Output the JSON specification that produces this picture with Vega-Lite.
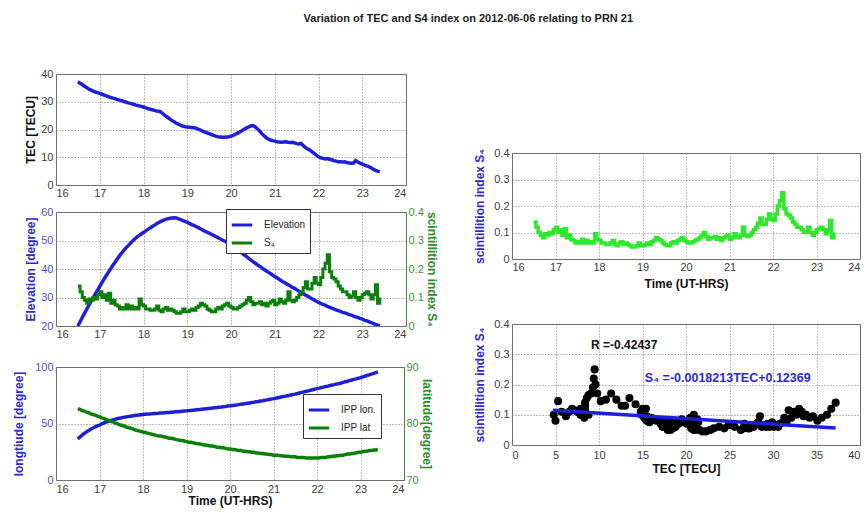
{
"$schema": "https://vega.github.io/schema/vega-lite/v6.json",
"padding": {"left": 12, "top": 12, "right": 2, "bottom": 2},
"title": {"text": "Variation of TEC and S4 index on 2012-06-06 relating to PRN 21", "fontSize": 11, "fontWeight": "bold", "color": "#222222", "anchor": "middle", "dx": 32, "offset": 44},
"datasets": {
"ts": [
{"t":16.5,"tec":37.2,"s4":0.14,"el":20.0,"lon":36.2,"lat":82.6},
{"t":16.55,"tec":36.7,"s4":0.12,"el":21.5,"lon":38.0,"lat":82.5},
{"t":16.6,"tec":36.2,"s4":0.10,"el":23.0,"lon":39.7,"lat":82.3},
{"t":16.65,"tec":35.6,"s4":0.09,"el":24.4,"lon":41.2,"lat":82.2},
{"t":16.7,"tec":35.1,"s4":0.08,"el":25.8,"lon":42.6,"lat":82.0},
{"t":16.75,"tec":34.6,"s4":0.095,"el":27.2,"lon":43.8,"lat":81.9},
{"t":16.8,"tec":34.2,"s4":0.09,"el":28.6,"lon":45.0,"lat":81.7},
{"t":16.85,"tec":33.8,"s4":0.10,"el":30.0,"lon":46.0,"lat":81.6},
{"t":16.9,"tec":33.5,"s4":0.095,"el":31.3,"lon":47.0,"lat":81.5},
{"t":16.95,"tec":33.3,"s4":0.11,"el":32.6,"lon":47.8,"lat":81.3},
{"t":17.0,"tec":33.0,"s4":0.12,"el":33.9,"lon":48.6,"lat":81.2},
{"t":17.05,"tec":32.7,"s4":0.10,"el":35.2,"lon":49.6,"lat":81.0},
{"t":17.1,"tec":32.4,"s4":0.11,"el":36.5,"lon":50.5,"lat":80.9},
{"t":17.15,"tec":32.1,"s4":0.09,"el":37.7,"lon":51.3,"lat":80.7},
{"t":17.2,"tec":31.8,"s4":0.115,"el":38.9,"lon":52.0,"lat":80.6},
{"t":17.25,"tec":31.6,"s4":0.08,"el":40.1,"lon":52.6,"lat":80.4},
{"t":17.3,"tec":31.3,"s4":0.09,"el":41.3,"lon":53.2,"lat":80.3},
{"t":17.35,"tec":31.1,"s4":0.075,"el":42.4,"lon":53.7,"lat":80.1},
{"t":17.4,"tec":30.8,"s4":0.07,"el":43.5,"lon":54.2,"lat":80.0},
{"t":17.45,"tec":30.6,"s4":0.06,"el":44.6,"lon":54.6,"lat":79.8},
{"t":17.5,"tec":30.4,"s4":0.065,"el":45.6,"lon":55.0,"lat":79.7},
{"t":17.55,"tec":30.1,"s4":0.06,"el":46.5,"lon":55.4,"lat":79.6},
{"t":17.6,"tec":29.9,"s4":0.075,"el":47.4,"lon":55.8,"lat":79.4},
{"t":17.65,"tec":29.6,"s4":0.06,"el":48.2,"lon":56.1,"lat":79.3},
{"t":17.7,"tec":29.4,"s4":0.07,"el":49.0,"lon":56.4,"lat":79.2},
{"t":17.75,"tec":29.2,"s4":0.06,"el":49.8,"lon":56.7,"lat":79.1},
{"t":17.8,"tec":28.9,"s4":0.065,"el":50.5,"lon":57.0,"lat":78.9},
{"t":17.85,"tec":28.7,"s4":0.06,"el":51.2,"lon":57.3,"lat":78.8},
{"t":17.9,"tec":28.5,"s4":0.095,"el":51.8,"lon":57.5,"lat":78.7},
{"t":17.95,"tec":28.3,"s4":0.075,"el":52.3,"lon":57.8,"lat":78.6},
{"t":18.0,"tec":28.1,"s4":0.07,"el":52.8,"lon":58.0,"lat":78.5},
{"t":18.05,"tec":27.8,"s4":0.06,"el":53.4,"lon":58.2,"lat":78.4},
{"t":18.1,"tec":27.5,"s4":0.06,"el":53.9,"lon":58.3,"lat":78.3},
{"t":18.15,"tec":27.3,"s4":0.055,"el":54.4,"lon":58.5,"lat":78.2},
{"t":18.2,"tec":27.1,"s4":0.055,"el":54.9,"lon":58.6,"lat":78.1},
{"t":18.25,"tec":26.9,"s4":0.06,"el":55.4,"lon":58.8,"lat":78.0},
{"t":18.3,"tec":26.7,"s4":0.07,"el":55.9,"lon":58.9,"lat":77.9},
{"t":18.35,"tec":26.6,"s4":0.055,"el":56.3,"lon":59.0,"lat":77.8},
{"t":18.4,"tec":26.3,"s4":0.05,"el":56.7,"lon":59.2,"lat":77.8},
{"t":18.45,"tec":25.6,"s4":0.06,"el":57.1,"lon":59.3,"lat":77.7},
{"t":18.5,"tec":24.9,"s4":0.065,"el":57.4,"lon":59.5,"lat":77.6},
{"t":18.55,"tec":24.4,"s4":0.055,"el":57.6,"lon":59.7,"lat":77.5},
{"t":18.6,"tec":23.8,"s4":0.06,"el":57.8,"lon":59.8,"lat":77.4},
{"t":18.65,"tec":23.2,"s4":0.055,"el":57.9,"lon":60.0,"lat":77.4},
{"t":18.7,"tec":22.8,"s4":0.05,"el":58.0,"lon":60.2,"lat":77.3},
{"t":18.75,"tec":22.3,"s4":0.045,"el":57.9,"lon":60.4,"lat":77.2},
{"t":18.8,"tec":21.9,"s4":0.045,"el":57.6,"lon":60.5,"lat":77.1},
{"t":18.85,"tec":21.5,"s4":0.05,"el":57.3,"lon":60.7,"lat":77.0},
{"t":18.9,"tec":21.2,"s4":0.06,"el":57.0,"lon":60.9,"lat":77.0},
{"t":18.95,"tec":21.0,"s4":0.05,"el":56.7,"lon":61.1,"lat":76.9},
{"t":19.0,"tec":20.9,"s4":0.05,"el":56.4,"lon":61.2,"lat":76.8},
{"t":19.05,"tec":20.8,"s4":0.055,"el":56.0,"lon":61.4,"lat":76.7},
{"t":19.1,"tec":20.7,"s4":0.06,"el":55.6,"lon":61.6,"lat":76.7},
{"t":19.15,"tec":20.6,"s4":0.055,"el":55.3,"lon":61.8,"lat":76.6},
{"t":19.2,"tec":20.5,"s4":0.065,"el":54.9,"lon":62.0,"lat":76.5},
{"t":19.25,"tec":20.1,"s4":0.07,"el":54.5,"lon":62.2,"lat":76.4},
{"t":19.3,"tec":19.8,"s4":0.08,"el":54.1,"lon":62.4,"lat":76.4},
{"t":19.35,"tec":19.4,"s4":0.075,"el":53.7,"lon":62.6,"lat":76.3},
{"t":19.4,"tec":19.1,"s4":0.07,"el":53.3,"lon":62.8,"lat":76.2},
{"t":19.45,"tec":18.8,"s4":0.06,"el":52.9,"lon":63.0,"lat":76.2},
{"t":19.5,"tec":18.5,"s4":0.055,"el":52.6,"lon":63.2,"lat":76.1},
{"t":19.55,"tec":18.2,"s4":0.05,"el":52.2,"lon":63.4,"lat":76.0},
{"t":19.6,"tec":17.9,"s4":0.05,"el":51.8,"lon":63.7,"lat":76.0},
{"t":19.65,"tec":17.6,"s4":0.06,"el":51.4,"lon":63.9,"lat":75.9},
{"t":19.7,"tec":17.4,"s4":0.065,"el":51.0,"lon":64.1,"lat":75.8},
{"t":19.75,"tec":17.3,"s4":0.06,"el":50.6,"lon":64.4,"lat":75.8},
{"t":19.8,"tec":17.2,"s4":0.07,"el":50.2,"lon":64.6,"lat":75.7},
{"t":19.85,"tec":17.2,"s4":0.075,"el":49.8,"lon":64.9,"lat":75.7},
{"t":19.9,"tec":17.3,"s4":0.08,"el":49.4,"lon":65.1,"lat":75.6},
{"t":19.95,"tec":17.4,"s4":0.07,"el":49.0,"lon":65.4,"lat":75.5},
{"t":20.0,"tec":17.6,"s4":0.065,"el":48.5,"lon":65.6,"lat":75.5},
{"t":20.05,"tec":17.9,"s4":0.06,"el":48.0,"lon":65.9,"lat":75.4},
{"t":20.1,"tec":18.3,"s4":0.06,"el":47.4,"lon":66.2,"lat":75.4},
{"t":20.15,"tec":18.7,"s4":0.065,"el":46.8,"lon":66.4,"lat":75.3},
{"t":20.2,"tec":19.1,"s4":0.07,"el":46.2,"lon":66.7,"lat":75.2},
{"t":20.25,"tec":19.6,"s4":0.075,"el":45.6,"lon":67.0,"lat":75.2},
{"t":20.3,"tec":20.1,"s4":0.08,"el":45.0,"lon":67.3,"lat":75.1},
{"t":20.35,"tec":20.5,"s4":0.09,"el":44.4,"lon":67.6,"lat":75.1},
{"t":20.4,"tec":20.9,"s4":0.10,"el":43.8,"lon":67.9,"lat":75.0},
{"t":20.45,"tec":21.3,"s4":0.085,"el":43.2,"lon":68.2,"lat":75.0},
{"t":20.5,"tec":21.4,"s4":0.075,"el":42.6,"lon":68.5,"lat":74.9},
{"t":20.55,"tec":21.0,"s4":0.08,"el":42.1,"lon":68.8,"lat":74.9},
{"t":20.6,"tec":20.3,"s4":0.08,"el":41.5,"lon":69.2,"lat":74.8},
{"t":20.65,"tec":19.5,"s4":0.085,"el":41.0,"lon":69.5,"lat":74.8},
{"t":20.7,"tec":18.6,"s4":0.075,"el":40.5,"lon":69.9,"lat":74.7},
{"t":20.75,"tec":17.8,"s4":0.08,"el":39.9,"lon":70.2,"lat":74.7},
{"t":20.8,"tec":17.1,"s4":0.07,"el":39.4,"lon":70.6,"lat":74.6},
{"t":20.85,"tec":16.6,"s4":0.08,"el":38.9,"lon":70.9,"lat":74.6},
{"t":20.9,"tec":16.2,"s4":0.085,"el":38.4,"lon":71.3,"lat":74.5},
{"t":20.95,"tec":16.0,"s4":0.09,"el":37.9,"lon":71.6,"lat":74.5},
{"t":21.0,"tec":15.8,"s4":0.075,"el":37.4,"lon":72.0,"lat":74.4},
{"t":21.05,"tec":15.6,"s4":0.08,"el":36.9,"lon":72.4,"lat":74.4},
{"t":21.1,"tec":15.5,"s4":0.095,"el":36.4,"lon":72.8,"lat":74.4},
{"t":21.15,"tec":15.4,"s4":0.085,"el":35.9,"lon":73.2,"lat":74.3},
{"t":21.2,"tec":15.5,"s4":0.08,"el":35.4,"lon":73.6,"lat":74.3},
{"t":21.25,"tec":15.6,"s4":0.09,"el":35.0,"lon":74.0,"lat":74.2},
{"t":21.3,"tec":15.4,"s4":0.12,"el":34.5,"lon":74.4,"lat":74.2},
{"t":21.35,"tec":15.3,"s4":0.09,"el":34.1,"lon":74.8,"lat":74.2},
{"t":21.4,"tec":15.4,"s4":0.085,"el":33.6,"lon":75.2,"lat":74.1},
{"t":21.45,"tec":15.2,"s4":0.09,"el":33.2,"lon":75.6,"lat":74.1},
{"t":21.5,"tec":14.9,"s4":0.10,"el":32.7,"lon":76.0,"lat":74.1},
{"t":21.55,"tec":14.8,"s4":0.11,"el":32.3,"lon":76.5,"lat":74.0},
{"t":21.6,"tec":15.0,"s4":0.12,"el":31.8,"lon":77.0,"lat":74.0},
{"t":21.65,"tec":14.2,"s4":0.135,"el":31.4,"lon":77.5,"lat":74.0},
{"t":21.7,"tec":13.5,"s4":0.155,"el":30.9,"lon":78.0,"lat":74.0},
{"t":21.75,"tec":13.0,"s4":0.13,"el":30.5,"lon":78.5,"lat":73.9},
{"t":21.8,"tec":12.6,"s4":0.13,"el":30.0,"lon":78.9,"lat":73.9},
{"t":21.85,"tec":12.0,"s4":0.15,"el":29.6,"lon":79.4,"lat":73.9},
{"t":21.9,"tec":11.4,"s4":0.17,"el":29.1,"lon":79.9,"lat":73.9},
{"t":21.95,"tec":10.8,"s4":0.15,"el":28.7,"lon":80.4,"lat":73.9},
{"t":22.0,"tec":10.2,"s4":0.145,"el":28.3,"lon":80.9,"lat":73.9},
{"t":22.05,"tec":9.8,"s4":0.17,"el":27.9,"lon":81.3,"lat":73.9},
{"t":22.1,"tec":9.6,"s4":0.20,"el":27.6,"lon":81.8,"lat":74.0},
{"t":22.15,"tec":9.4,"s4":0.22,"el":27.3,"lon":82.2,"lat":74.0},
{"t":22.2,"tec":9.5,"s4":0.25,"el":26.9,"lon":82.7,"lat":74.0},
{"t":22.25,"tec":9.3,"s4":0.19,"el":26.6,"lon":83.1,"lat":74.1},
{"t":22.3,"tec":9.1,"s4":0.17,"el":26.3,"lon":83.6,"lat":74.1},
{"t":22.35,"tec":8.8,"s4":0.165,"el":26.0,"lon":84.0,"lat":74.2},
{"t":22.4,"tec":8.6,"s4":0.155,"el":25.7,"lon":84.4,"lat":74.2},
{"t":22.45,"tec":8.4,"s4":0.14,"el":25.4,"lon":84.9,"lat":74.3},
{"t":22.5,"tec":8.4,"s4":0.13,"el":25.1,"lon":85.3,"lat":74.3},
{"t":22.55,"tec":8.3,"s4":0.12,"el":24.8,"lon":85.8,"lat":74.4},
{"t":22.6,"tec":8.4,"s4":0.12,"el":24.6,"lon":86.4,"lat":74.4},
{"t":22.65,"tec":8.1,"s4":0.11,"el":24.3,"lon":86.9,"lat":74.5},
{"t":22.7,"tec":7.9,"s4":0.10,"el":24.0,"lon":87.4,"lat":74.6},
{"t":22.75,"tec":7.8,"s4":0.105,"el":23.8,"lon":88.0,"lat":74.6},
{"t":22.8,"tec":7.9,"s4":0.12,"el":23.5,"lon":88.5,"lat":74.7},
{"t":22.85,"tec":8.8,"s4":0.10,"el":23.2,"lon":89.0,"lat":74.7},
{"t":22.9,"tec":8.3,"s4":0.09,"el":23.0,"lon":89.5,"lat":74.8},
{"t":22.95,"tec":7.9,"s4":0.10,"el":22.7,"lon":90.1,"lat":74.9},
{"t":23.0,"tec":7.5,"s4":0.11,"el":22.4,"lon":90.6,"lat":74.9},
{"t":23.05,"tec":7.2,"s4":0.115,"el":22.1,"lon":91.2,"lat":75.0},
{"t":23.1,"tec":6.9,"s4":0.12,"el":21.8,"lon":91.8,"lat":75.1},
{"t":23.15,"tec":6.6,"s4":0.11,"el":21.5,"lon":92.5,"lat":75.1},
{"t":23.2,"tec":6.2,"s4":0.095,"el":21.2,"lon":93.1,"lat":75.2},
{"t":23.25,"tec":5.7,"s4":0.11,"el":20.9,"lon":93.7,"lat":75.2},
{"t":23.3,"tec":5.3,"s4":0.145,"el":20.6,"lon":94.3,"lat":75.3},
{"t":23.35,"tec":5.0,"s4":0.08,"el":20.3,"lon":95.0,"lat":75.3},
{"t":23.4,"tec":4.8,"s4":0.10,"el":20.0,"lon":95.6,"lat":75.4}
],
"fit": [
{"tec":4.7,"fit":0.1151},
{"tec":37.2,"fit":0.0559}
]
},
"config": {
"font": "Liberation Sans",
"view": {"stroke": "#6a6a6a", "strokeWidth": 1},
"axis": {"labelFontSize": 11, "labelColor": "#3c3c3c", "titleFontSize": 12, "titleFontWeight": "bold", "titleColor": "#111111", "grid": true, "gridDash": [1, 2], "gridColor": "#7a7a7a", "gridWidth": 1, "ticks": false, "domain": false, "labelPadding": 3, "titlePadding": 3},
"axisX": {"labelPadding": 2, "titlePadding": 2},
"legend": {"title": null, "orient": "none", "symbolType": "stroke", "symbolStrokeWidth": 3, "symbolSize": 420, "labelFontSize": 10, "labelColor": "#222222", "strokeColor": "#333333", "fillColor": "#ffffff", "padding": 4, "rowPadding": 0, "labelOffset": 10}
},
"spacing": 35,
"resolve": {"scale": {"color": "independent"}, "legend": {"color": "independent"}},
"hconcat": [
{
"spacing": 6,
"resolve": {"scale": {"color": "independent"}, "legend": {"color": "independent"}},
"vconcat": [
{
"width": 350, "height": 111,
"data": {"name": "ts"},
"mark": {"type": "line", "color": "#1f1fd8", "strokeWidth": 3.5},
"encoding": {
"x": {"field": "t", "type": "quantitative", "scale": {"domain": [16, 24], "nice": false}, "axis": {"values": [16,17,18,19,20,21,22,23,24], "title": null}},
"y": {"field": "tec", "type": "quantitative", "scale": {"domain": [0, 40]}, "axis": {"values": [0,10,20,30,40], "title": "TEC [TECU]"}}
}
},
{
"width": 350, "height": 114,
"data": {"name": "ts"},
"layer": [
{
"mark": {"type": "line", "strokeWidth": 3.5, "clip": true},
"encoding": {
"x": {"field": "t", "type": "quantitative", "scale": {"domain": [16, 24], "nice": false}, "axis": {"values": [16,17,18,19,20,21,22,23,24], "title": null}},
"y": {"field": "el", "type": "quantitative", "scale": {"domain": [20, 60]}, "axis": {"values": [20,30,40,50,60], "title": "Elevation [degree]", "titleColor": "#2a2ad0", "labelColor": "#5050c0"}},
"color": {"datum": "Elevation", "type": "nominal", "scale": {"domain": ["Elevation", "S₄"], "range": ["#1f1fd8", "#0a800a"]}, "legend": {"legendX": 170, "legendY": -3}}
}
},
{
"mark": {"type": "line", "interpolate": "step-after", "strokeWidth": 3},
"encoding": {
"x": {"field": "t", "type": "quantitative", "scale": {"domain": [16, 24], "nice": false}, "axis": {"values": [16,17,18,19,20,21,22,23,24], "title": null}},
"y": {"field": "s4", "type": "quantitative", "scale": {"domain": [0, 0.4]}, "axis": {"orient": "right", "values": [0,0.1,0.2,0.3,0.4], "format": "~g", "grid": false, "title": "scintillition index S₄", "titleColor": "#2a8a2a", "labelColor": "#3f8f3f", "domain": true, "domainColor": "#3f8f3f", "labelPadding": 2, "titlePadding": 1}},
"color": {"datum": "S₄", "type": "nominal"}
}
}
],
"resolve": {"scale": {"y": "independent"}}
},
{
"width": 348, "height": 113,
"title": {"text": " ", "fontSize": 1, "offset": 13},
"data": {"name": "ts"},
"layer": [
{
"mark": {"type": "line", "strokeWidth": 3.5},
"encoding": {
"x": {"field": "t", "type": "quantitative", "scale": {"domain": [16, 24], "nice": false}, "axis": {"values": [16,17,18,19,20,21,22,23,24], "title": "Time (UT-HRS)", "labelPadding": 3, "titlePadding": 1}},
"y": {"field": "lon", "type": "quantitative", "scale": {"domain": [0, 100]}, "axis": {"values": [0,50,100], "title": "longtiude [degree]", "titleColor": "#2a2ad0", "labelColor": "#5050c0", "titlePadding": 9}},
"color": {"datum": "IPP lon.", "type": "nominal", "scale": {"domain": ["IPP lon.", "IPP lat"], "range": ["#1f1fd8", "#0a800a"]}, "legend": {"legendX": 247, "legendY": 27}}
}
},
{
"mark": {"type": "line", "strokeWidth": 3.5},
"encoding": {
"x": {"field": "t", "type": "quantitative", "scale": {"domain": [16, 24], "nice": false}, "axis": {"values": [16,17,18,19,20,21,22,23,24], "title": "Time (UT-HRS)", "labelPadding": 3, "titlePadding": 1}},
"y": {"field": "lat", "type": "quantitative", "scale": {"domain": [70, 90]}, "axis": {"orient": "right", "values": [70,80,90], "grid": false, "title": "latitude[degree]", "titleColor": "#2a8a2a", "labelColor": "#3f8f3f", "domain": true, "domainColor": "#3f8f3f", "labelPadding": 2, "titlePadding": 1}},
"color": {"datum": "IPP lat", "type": "nominal"}
}
}
],
"resolve": {"scale": {"y": "independent"}}
}
]
},
{
"spacing": 27,
"vconcat": [
{
"width": 348, "height": 45,
"data": {"values": []},
"mark": {"type": "point", "opacity": 0},
"view": {"stroke": null}
},
{
"width": 348, "height": 106,
"data": {"name": "ts"},
"mark": {"type": "line", "interpolate": "step-after", "color": "#2ee82e", "strokeWidth": 3.5},
"encoding": {
"x": {"field": "t", "type": "quantitative", "scale": {"domain": [16, 24], "nice": false}, "axis": {"values": [16,17,18,19,20,21,22,23,24], "title": "Time (UT-HRS)", "titlePadding": 6}},
"y": {"field": "s4", "type": "quantitative", "scale": {"domain": [0, 0.4]}, "axis": {"values": [0,0.1,0.2,0.3,0.4], "format": "~g", "title": "scintillition index S₄", "titleColor": "#2a2ad0", "titlePadding": 7}}
}
},
{
"width": 348, "height": 121,
"encoding": {
"x": {"field": "tec", "type": "quantitative", "scale": {"domain": [0, 40], "nice": false}, "axis": {"values": [0,5,10,15,20,25,30,35,40], "title": "TEC [TECU]", "labelPadding": 4, "titlePadding": 3}}
},
"layer": [
{
"data": {"name": "ts"},
"mark": {"type": "circle", "color": "#000000", "size": 65, "opacity": 1},
"encoding": {
"y": {"field": "s4", "type": "quantitative", "scale": {"domain": [0, 0.4]}, "axis": {"values": [0,0.1,0.2,0.3,0.4], "format": "~g", "title": "scintillition index S₄", "titleColor": "#2a2ad0", "titlePadding": 7}}
}
},
{
"data": {"name": "fit"},
"mark": {"type": "line", "color": "#1f1fd8", "strokeWidth": 3.5},
"encoding": {
"y": {"field": "fit", "type": "quantitative", "scale": {"domain": [0, 0.4]}, "axis": {"values": [0,0.1,0.2,0.3,0.4], "format": "~g", "title": "scintillition index S₄", "titleColor": "#2a2ad0", "titlePadding": 7}}
}
},
{
"data": {"values": [{"tec": 12.9, "s4": 0.33, "label": "R =-0.42437"}]},
"mark": {"type": "text", "fontWeight": "bold", "fontSize": 12, "color": "#111111"},
"encoding": {
"y": {"field": "s4", "type": "quantitative", "scale": {"domain": [0, 0.4]}, "axis": {"values": [0,0.1,0.2,0.3,0.4], "format": "~g", "title": "scintillition index S₄", "titleColor": "#2a2ad0", "titlePadding": 7}},
"text": {"field": "label"}
}
},
{
"data": {"values": [{"tec": 24.8, "s4": 0.22, "label": "S₄ =-0.0018213TEC+0.12369"}]},
"mark": {"type": "text", "fontWeight": "bold", "fontSize": 12.5, "color": "#2a2ad0"},
"encoding": {
"y": {"field": "s4", "type": "quantitative", "scale": {"domain": [0, 0.4]}, "axis": {"values": [0,0.1,0.2,0.3,0.4], "format": "~g", "title": "scintillition index S₄", "titleColor": "#2a2ad0", "titlePadding": 7}},
"text": {"field": "label"}
}
}
]
}
]
}
]
}
